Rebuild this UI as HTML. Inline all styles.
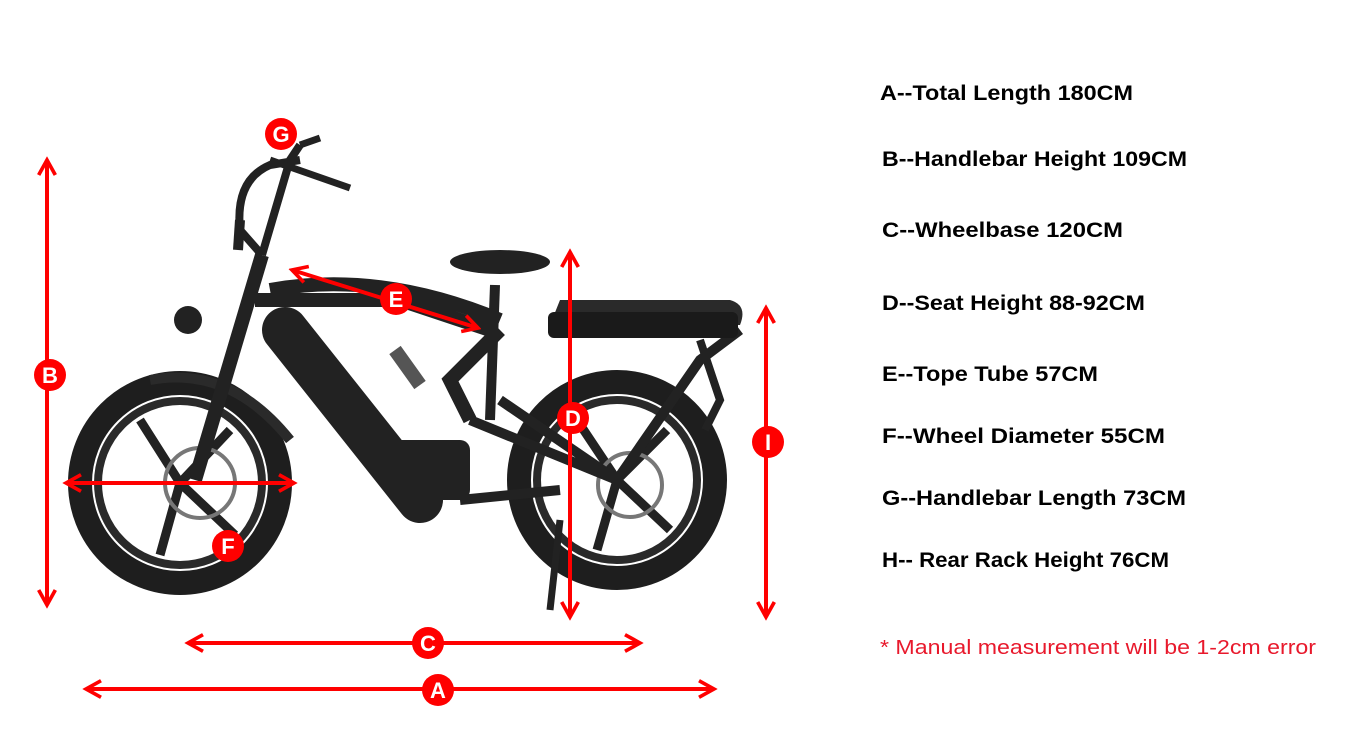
<!DOCTYPE html>
<html><head><meta charset="utf-8"><style>
html,body{margin:0;padding:0;background:#fff;}
svg{display:block;}
.t{font-family:"Liberation Sans",sans-serif;font-weight:bold;font-size:21px;fill:#000;}
.l{font-family:"Liberation Sans",sans-serif;font-weight:bold;font-size:22px;fill:#fff;text-anchor:middle;}
</style></head><body>
<svg width="1367" height="753" viewBox="0 0 1367 753" xmlns="http://www.w3.org/2000/svg">
<defs>
<marker id="ah" viewBox="0 0 12 12" refX="10" refY="6" markerWidth="5" markerHeight="5" orient="auto-start-reverse">
<path d="M1,1 L10,6 L1,11" fill="none" stroke="#f00" stroke-width="2.2"/></marker>
</defs>
<g>
<circle cx="180" cy="483" r="100" fill="none" stroke="#1e1e1e" stroke-width="24"/>
<circle cx="180" cy="483" r="82" fill="none" stroke="#2a2a2a" stroke-width="8"/>
<circle cx="617" cy="480" r="98" fill="none" stroke="#1e1e1e" stroke-width="24"/>
<circle cx="617" cy="480" r="80" fill="none" stroke="#2a2a2a" stroke-width="8"/>
<path d="M180,483 L140,420 M180,483 L230,430 M180,483 L160,555 M180,483 L235,535 M617,480 L577,420 M617,480 L667,430 M617,480 L597,550 M617,480 L670,530" stroke="#222" stroke-width="9"/>
<circle cx="200" cy="483" r="35" fill="none" stroke="#777" stroke-width="4"/>
<circle cx="630" cy="485" r="32" fill="none" stroke="#777" stroke-width="4"/>
<path d="M150,380 Q230,365 290,440" fill="none" stroke="#2a2a2a" stroke-width="10"/>
<path d="M195,480 L262,255" stroke="#222" stroke-width="14"/>
<path d="M262,255 L290,160 L300,145 M262,255 L240,230 Q235,180 270,165 L300,160" fill="none" stroke="#222" stroke-width="8"/>
<path d="M270,160 L350,188 M300,145 L320,138" stroke="#222" stroke-width="7"/>
<path d="M238,250 L240,220" stroke="#222" stroke-width="10"/>
<circle cx="188" cy="320" r="14" fill="#222"/>
<path d="M255,300 L400,300 L490,330 M270,290 Q380,270 500,320" fill="none" stroke="#222" stroke-width="14"/>
<path d="M285,330 L420,500" stroke="#222" stroke-width="46" stroke-linecap="round"/>
<rect x="390" y="440" width="80" height="60" rx="10" fill="#222"/>
<path d="M500,330 L450,380 L470,420" fill="none" stroke="#222" stroke-width="14"/>
<path d="M495,285 L490,420" stroke="#222" stroke-width="10"/>
<ellipse cx="500" cy="262" rx="50" ry="12" fill="#222"/>
<path d="M470,420 L617,480 L700,360 L740,330 M500,400 L617,480" fill="none" stroke="#222" stroke-width="10"/>
<path d="M550,325 L740,325 Q748,305 730,300 L560,300 Z" fill="#2a2a2a"/>
<rect x="548" y="312" width="190" height="26" rx="6" fill="#1a1a1a"/>
<path d="M700,340 L720,400 L705,430" fill="none" stroke="#222" stroke-width="8"/>
<path d="M460,500 L560,490" stroke="#222" stroke-width="10"/>
<path d="M560,520 L550,610" stroke="#222" stroke-width="7"/>
<path d="M395,350 L420,385" stroke="#555" stroke-width="14"/>
</g>
<g stroke="#f00" stroke-width="4" fill="none" marker-start="url(#ah)" marker-end="url(#ah)">
<line x1="47" y1="160" x2="47" y2="605"/>
<line x1="86" y1="689" x2="714" y2="689"/>
<line x1="188" y1="643" x2="640" y2="643"/>
<line x1="570" y1="252" x2="570" y2="617"/>
<line x1="766" y1="308" x2="766" y2="617"/>
<line x1="292" y1="270" x2="478" y2="328"/>
<line x1="66" y1="483" x2="294" y2="483"/>
</g>
<g fill="#f00">
<circle cx="50" cy="375" r="16"/><circle cx="438" cy="690" r="16"/><circle cx="428" cy="643" r="16"/>
<circle cx="573" cy="418" r="16"/><circle cx="768" cy="442" r="16"/><circle cx="396" cy="299" r="16"/>
<circle cx="228" cy="546" r="16"/><circle cx="281" cy="134" r="16"/>
</g>
<g class="l">
<text x="50" y="383">B</text><text x="438" y="698">A</text><text x="428" y="651">C</text>
<text x="573" y="426">D</text><text x="768" y="450">I</text><text x="396" y="307">E</text>
<text x="228" y="554">F</text><text x="281" y="142">G</text>
</g>
<text class="t" x="880" y="100" textLength="253" lengthAdjust="spacingAndGlyphs">A--Total Length 180CM</text>
<text class="t" x="882" y="166" textLength="305" lengthAdjust="spacingAndGlyphs">B--Handlebar Height 109CM</text>
<text class="t" x="882" y="237" textLength="241" lengthAdjust="spacingAndGlyphs">C--Wheelbase 120CM</text>
<text class="t" x="882" y="310" textLength="263" lengthAdjust="spacingAndGlyphs">D--Seat Height 88-92CM</text>
<text class="t" x="882" y="381" textLength="216" lengthAdjust="spacingAndGlyphs">E--Tope Tube 57CM</text>
<text class="t" x="882" y="443" textLength="283" lengthAdjust="spacingAndGlyphs">F--Wheel Diameter 55CM</text>
<text class="t" x="882" y="505" textLength="304" lengthAdjust="spacingAndGlyphs">G--Handlebar Length 73CM</text>
<text class="t" x="882" y="567" textLength="287" lengthAdjust="spacingAndGlyphs">H-- Rear Rack Height 76CM</text>
<text x="880" y="654" textLength="436" lengthAdjust="spacingAndGlyphs" style="font-family:'Liberation Sans',sans-serif;font-size:20px;fill:#e8192c;">*  Manual measurement will be 1-2cm error</text>
</svg>
</body></html>
